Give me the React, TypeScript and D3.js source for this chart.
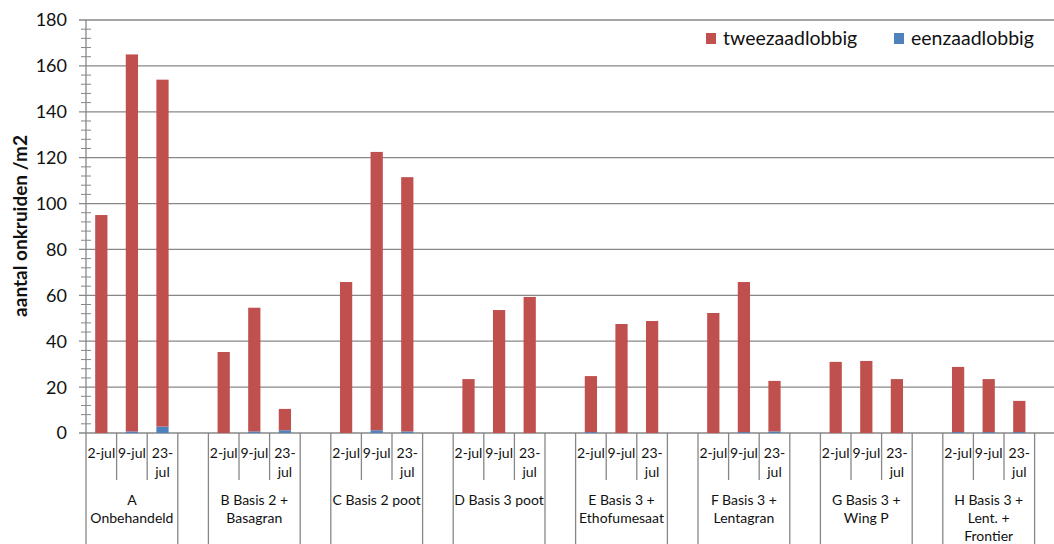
import React from "react";
import * as d3 from "d3";

// ---- data ----
const groupLabels: string[][] = [
  ["A", "Onbehandeld"],
  ["B Basis 2 +", "Basagran"],
  ["C Basis 2 poot"],
  ["D Basis 3 poot"],
  ["E Basis 3 +", "Ethofumesaat"],
  ["F Basis 3 +", "Lentagran"],
  ["G Basis 3 +", "Wing P"],
  ["H Basis 3 +", "Lent. +", "Frontier"],
];
const dates = ["2-jul", "9-jul", "23-jul"];
const dateLines: string[][] = [["2-jul"], ["9-jul"], ["23-", "jul"]];

// per group, per date
const tweezaadlobbig: number[][] = [
  [95, 164.3, 151.2],
  [35.3, 53.9, 9.3],
  [65.8, 121.3, 110.8],
  [23.5, 53.6, 59.3],
  [24.4, 47.5, 48.8],
  [52.3, 65.4, 22.0],
  [31, 31.4, 23.5],
  [28.4, 23.1, 13.6],
];
const eenzaadlobbig: number[][] = [
  [0, 0.7, 2.8],
  [0, 0.7, 1.2],
  [0, 1.2, 0.7],
  [0, 0, 0],
  [0.4, 0, 0],
  [0, 0.4, 0.7],
  [0, 0, 0],
  [0.4, 0.4, 0.4],
];
const seriesNames = ["tweezaadlobbig", "eenzaadlobbig"];
const yTicks = [0, 20, 40, 60, 80, 100, 120, 140, 160, 180];
const yTitle = "aantal onkruiden /m2";

// ---- layout ----
const W = 1054;
const H = 544;
const FONT = "Lato, 'Open Sans', sans-serif";
const RED = "#C0504D";
const BLUE = "#4F81BD";
const GRID = "#878787";

const x0 = 86;
const slotW = 30.6;
const nSlots = groupLabels.length * 4;

export default function App() {
  const y = d3.scaleLinear().domain([0, 180]).range([433, 20]);
  const x = d3
    .scaleBand<number>()
    .domain(d3.range(nSlots))
    .range([x0, x0 + nSlots * slotW])
    .padding(0);
  const bw = x.bandwidth() * 0.4;

  const minorTicks = d3.range(0, 181, 4).filter((v) => v % 20 !== 0);

  const bars: React.ReactNode[] = [];
  groupLabels.forEach((_, g) => {
    dates.forEach((_, d) => {
      const slot = g * 4 + d;
      const cx = (x(slot) as number) + x.bandwidth() / 2;
      const b = eenzaadlobbig[g][d];
      const t = tweezaadlobbig[g][d];
      if (b > 0)
        bars.push(
          <rect key={`b${slot}`} x={cx - bw / 2} y={y(b)} width={bw} height={y(0) - y(b)} fill={BLUE} />
        );
      bars.push(
        <rect key={`t${slot}`} x={cx - bw / 2} y={y(b + t)} width={bw} height={y(b) - y(b + t)} fill={RED} />
      );
    });
  });

  const boundaries = d3.range(nSlots + 1).map((i) => ({
    xp: x0 + i * slotW,
    long: i % 4 === 0 || i % 4 === 3,
  }));

  return (
    <svg
      width={W}
      height={H}
      style={{ position: "absolute", left: 0, top: 0, background: "#fff" }}
      fontFamily={FONT}
    >
      {yTicks.map((v) => (
        <line key={`g${v}`} x1={79} x2={W} y1={y(v)} y2={y(v)} stroke={GRID} strokeWidth={1.3} />
      ))}
      <line x1={x0} x2={x0} y1={y(180)} y2={y(0)} stroke={GRID} strokeWidth={1.3} />
      {minorTicks.map((v) => (
        <line key={`m${v}`} x1={81} x2={91} y1={y(v)} y2={y(v)} stroke={GRID} strokeWidth={1} />
      ))}
      {yTicks.map((v) => (
        <text key={`yl${v}`} x={67} y={y(v)} dy="0.36em" textAnchor="end" fontSize={18} fill="#111">
          {v}
        </text>
      ))}
      <text
        transform={`translate(27,${226}) rotate(-90)`}
        textAnchor="middle"
        fontSize={19}
        fontWeight="bold"
        fill="#111"
      >
        {yTitle}
      </text>

      {bars}

      {boundaries.map((b, i) => (
        <line
          key={`cb${i}`}
          x1={b.xp}
          x2={b.xp}
          y1={y(0)}
          y2={b.long ? H : 480}
          stroke={GRID}
          strokeWidth={1.3}
        />
      ))}
      {groupLabels.map((_, g) =>
        dateLines.map((lines, d) => {
          const cx = (x(g * 4 + d) as number) + x.bandwidth() / 2;
          return lines.map((ln, k) => (
            <text key={`dl${g}-${d}-${k}`} x={cx} y={458 + k * 19} textAnchor="middle" fontSize={14} fill="#111">
              {ln}
            </text>
          ));
        })
      )}
      {groupLabels.map((lines, g) => {
        const cx = x0 + (g * 4 + 1.5) * slotW;
        return lines.map((ln, k) => (
          <text key={`gl${g}-${k}`} x={cx} y={505 + k * 18} textAnchor="middle" fontSize={14} fill="#111">
            {ln}
          </text>
        ));
      })}

      <rect x={706} y={33} width={10} height={11} fill={RED} />
      <text x={723} y={45} fontSize={19.5} fill="#111">
        {seriesNames[0]}
      </text>
      <rect x={894} y={33} width={10} height={11} fill={BLUE} />
      <text x={911} y={45} fontSize={19.5} fill="#111">
        {seriesNames[1]}
      </text>
    </svg>
  );
}
